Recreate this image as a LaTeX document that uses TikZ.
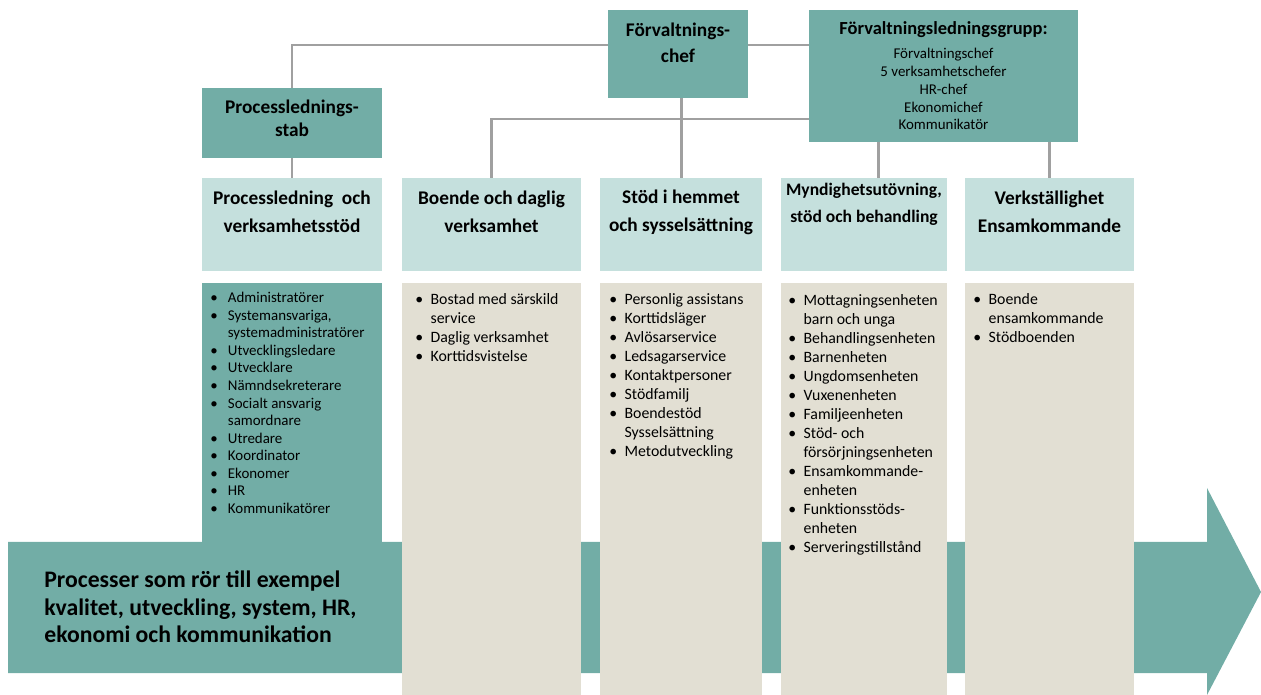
\documentclass[tikz,border=0pt]{standalone}
\usepackage{fontspec}
\setmainfont{Carlito}
\usetikzlibrary{positioning}

\definecolor{tealmain}{HTML}{72ADA6}
\definecolor{teallight}{HTML}{C5E0DD}
\definecolor{beigebox}{HTML}{E2DFD3}
\definecolor{linegray}{HTML}{A0A0A0}

\newcommand{\bla}{\makebox[10pt][l]{\textbullet}}
\newcommand{\nba}{\hspace*{10pt}}
\newcommand{\blb}{\makebox[8.7pt][l]{\textbullet}}
\newcommand{\nbb}{\hspace*{8.7pt}}

\begin{document}
\begin{tikzpicture}[x=0.02cm, y=-0.02cm]


\tikzstyle{dark_box} = [fill=tealmain, inner sep=0pt]
\tikzstyle{head_box} = [fill=teallight, inner sep=0pt, minimum height=1.86cm]
\tikzstyle{list_box} = [fill=beigebox, inner sep=0pt, minimum height=8.24cm]
\tikzstyle{edge_style} = [draw=linegray, line width=1.7pt]
\tikzstyle{top_text} = [font=\bfseries\fontsize{11}{13}\selectfont, align=center, inner sep=0pt]
\tikzstyle{head_text} = [font=\bfseries\fontsize{11}{15.9}\selectfont, align=center, inner sep=0pt]
\tikzstyle{list_text} = [font=\fontsize{9}{10.8}\selectfont, align=left, inner sep=0pt, anchor=north west]

\useasboundingbox (0,0) rectangle (1261,695);

% big arrow behind the columns
\fill[tealmain] (8,542) -- (1207,542) -- (1207,488) -- (1261,592) -- (1207,695) -- (1207,673) -- (8,673) -- cycle;

% top level
\node[dark_box, minimum width=3.6cm, minimum height=1.4cm] (stab) at (292,123) {};
\node[dark_box, minimum width=2.8cm, minimum height=1.76cm] (chef) at (678,54) {};
\node[dark_box, minimum width=5.38cm, minimum height=2.64cm] (grupp) at (943.5,76) {};

\node[top_text] (stab_t) at (292,118) {Processlednings-\\stab};
\node[top_text, font=\bfseries\fontsize{11}{14.7}\selectfont] (chef_t) at (678,43) {Förvaltnings-\\chef};
\node[top_text, font=\bfseries\fontsize{10.5}{12}\selectfont] (grupp_t) at (943.5,30) {Förvaltningsledningsgrupp:};
\node[top_text, font=\fontsize{8.5}{10.2}\selectfont] (grupp_l) at (943.5,89) {Förvaltningschef\\5 verksamhetschefer\\HR-chef\\Ekonomichef\\Kommunikatör};

% column heads
\node[head_box, minimum width=3.6cm] (head1) at (292,224.5) {};
\node[head_box, minimum width=3.58cm] (head2) at (491.5,224.5) {};
\node[head_box, minimum width=3.24cm] (head3) at (681,224.5) {};
\node[head_box, minimum width=3.34cm] (head4) at (864,224.5) {};
\node[head_box, minimum width=3.38cm] (head5) at (1049.5,224.5) {};

\node[head_text] (head1_t) at (292,212) {Processledning\ \ och\\verksamhetsstöd};
\node[head_text] (head2_t) at (491.5,212) {Boende och daglig\\verksamhet};
\node[head_text] (head3_t) at (681,212) {Stöd i hemmet\\och sysselsättning};
\node[head_text, font=\bfseries\fontsize{10}{15.3}\selectfont] (head4_t) at (864,204.5) {Myndighetsutövning,\\stöd och behandling};
\node[head_text] (head5_t) at (1049.5,212) {Verkställighet\\Ensamkommande};

% column bodies
\node[dark_box, minimum width=3.6cm, minimum height=5.18cm] (body1) at (292,412.5) {};
\node[list_box, minimum width=3.58cm] (body2) at (491.5,489) {};
\node[list_box, minimum width=3.24cm] (body3) at (681,489) {};
\node[list_box, minimum width=3.34cm] (body4) at (864,489) {};
\node[list_box, minimum width=3.38cm] (body5) at (1049.5,489) {};

\node[list_text, font=\fontsize{8.5}{10}\selectfont] (list1) at (210,292) {\bla Administratörer\\\bla Systemansvariga,\\\nba systemadministratörer\\\bla Utvecklingsledare\\\bla Utvecklare\\\bla Nämndsekreterare\\\bla Socialt ansvarig\\\nba samordnare\\\bla Utredare\\\bla Koordinator\\\bla Ekonomer\\\bla HR\\\bla Kommunikatörer};
\node[list_text] (list2) at (415,293) {\blb Bostad med särskild\\\nbb service\\\blb Daglig verksamhet\\\blb Korttidsvistelse};
\node[list_text] (list3) at (609,293) {\blb Personlig assistans\\\blb Korttidsläger\\\blb Avlösarservice\\\blb Ledsagarservice\\\blb Kontaktpersoner\\\blb Stödfamilj\\\blb Boendestöd\\\nbb Sysselsättning\\\blb Metodutveckling};
\node[list_text] (list4) at (788,294) {\blb Mottagningsenheten\\\nbb barn och unga\\\blb Behandlingsenheten\\\blb Barnenheten\\\blb Ungdomsenheten\\\blb Vuxenenheten\\\blb Familjeenheten\\\blb Stöd- och\\\nbb försörjningsenheten\\\blb Ensamkommande-\\\nbb enheten\\\blb Funktionsstöds-\\\nbb enheten\\\blb Serveringstillstånd};
\node[list_text] (list5) at (973,293) {\blb Boende\\\nbb ensamkommande\\\blb Stödboenden};

\node[align=left, inner sep=0pt, anchor=west, font=\bfseries\fontsize{13.5}{15.6}\selectfont] (process_t) at (44,607) {Processer som rör till exempel\\kvalitet, utveckling, system, HR,\\ekonomi och kommunikation};

% connectors
\coordinate (top_line) at (293,45);
\coordinate (mid_line) at (493,119);
\coordinate (drop4) at (878,0);

\draw[edge_style] (chef.west |- top_line) -| (stab.north);
\draw[edge_style] (chef.east |- top_line) -- (grupp.west |- top_line);
\draw[edge_style] (stab) edge (head1);
\draw[edge_style] (grupp.west |- mid_line) -| (head2.north);
\draw[edge_style] (chef.south -| head3.north) -- (head3.north);
\draw[edge_style] (grupp.south -| drop4) -- (head4.north -| drop4);
\draw[edge_style] (grupp.south -| head5.north) -- (head5.north);

\end{tikzpicture}
\end{document}
